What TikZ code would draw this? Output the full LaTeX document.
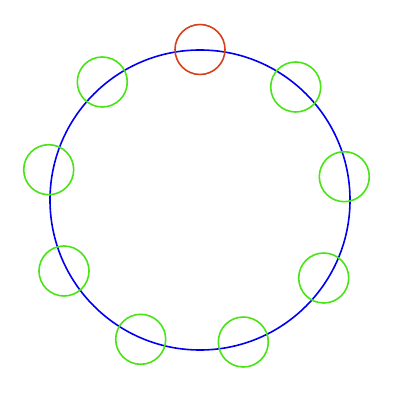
\documentclass[tikz,border=0pt]{standalone}
\usepackage{tikz}

\definecolor{ringblue}{RGB}{0,0,240}
\definecolor{headred}{RGB}{214,64,28}
\definecolor{seatgreen}{RGB}{72,228,20}

\begin{document}
\begin{tikzpicture}[x=0.5pt,y=-0.5pt]

  \useasboundingbox (0,0) rectangle (400,400);

  \draw[ringblue, line width=0.8pt] (200,200) circle (150);

  \draw[headred, line width=0.8pt] (200,49.5) circle (25);

  \draw[seatgreen, line width=0.8pt] (102.3,82) circle (25);
  \draw[seatgreen, line width=0.8pt] (295.7,87) circle (25);
  \draw[seatgreen, line width=0.8pt] (48.7,169.7) circle (25);
  \draw[seatgreen, line width=0.8pt] (344.3,176.7) circle (25);
  \draw[seatgreen, line width=0.8pt] (64,271) circle (25);
  \draw[seatgreen, line width=0.8pt] (323.7,278) circle (25);
  \draw[seatgreen, line width=0.8pt] (140.7,339.3) circle (25);
  \draw[seatgreen, line width=0.8pt] (243.3,342) circle (25);

\end{tikzpicture}
\end{document}
